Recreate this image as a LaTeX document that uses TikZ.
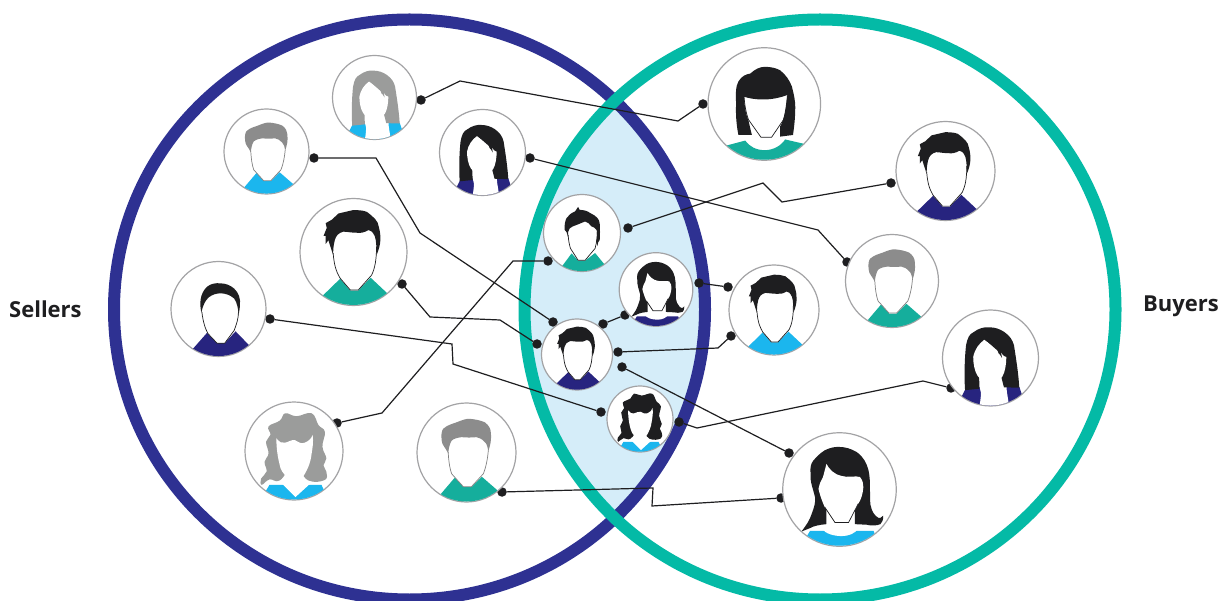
\documentclass[tikz,border=0pt]{standalone}
\usepackage{fontspec}
\setmainfont{Open Sans}
\definecolor{ringnavy}{HTML}{2E3192}
\definecolor{ringteal}{HTML}{04BAA6}
\definecolor{lens}{HTML}{D5EDF9}
\definecolor{ink}{HTML}{1E1E20}
\definecolor{sTeal}{HTML}{15AE9C}
\definecolor{sNavy}{HTML}{27247F}
\definecolor{sCyan}{HTML}{1BB6EE}
\definecolor{gW}{HTML}{9B9C9B}
\definecolor{gM}{HTML}{8C8C8C}
\definecolor{edge}{HTML}{A3A3A5}
\tikzset{
 avatar/.style={circle,draw=edge,line width=1.2pt,fill=white,inner sep=0pt,outer sep=0pt},
 dotn/.style={circle,fill=ink,inner sep=0pt,outer sep=0pt,minimum size=9.5pt},
 conn/.style={draw=ink,line width=1.2pt,line join=miter},
 jawline/.style={line width=.7pt},
 label/.style={font=\bfseries\fontsize{22}{26}\selectfont,text=ink,inner sep=0pt,anchor=base west},
}
\newcommand\facedraw[2][ink]{\fill[white] #2 -- cycle; \draw[jawline,#1] #2;}
% hair and face types, drawn in a frame with circle radius 100
\newcommand\typeMa{% short hair with tuft
 \fill[shirtc] (-60,84) -- (-25,50) -- (-6,72) -- (9,72) -- (32,48) -- (64,78) -- (80,120) -- (-80,120) -- cycle;
 \facedraw{(-38,2) .. controls (-36,30) and (-30,40) .. (-25,49) -- (-6,71) -- (9,71) -- (34,43) .. controls (40,30) and (43,15) .. (43,-10)}
 \fill[hairc] (-38,6) -- (-47,-22) -- (-52,-15) -- (-52,-30) -- (-56,-30) -- (-50,-45) -- (-52,-54) -- (-41,-60) -- (-28,-72) -- (0,-78.5) .. controls (10,-78) and (18,-78) .. (25,-75) .. controls (38,-65) and (46,-58) .. (47,-48) .. controls (52,-30) and (52,-15) .. (43,6) .. controls (43,-5) and (43,-20) .. (40,-29) .. controls (36,-38) and (32,-41) .. (28,-41) .. controls (20,-36) and (12,-35) .. (6,-36) .. controls (-5,-36) and (-12,-38) .. (-19,-38) .. controls (-28,-36) and (-33,-30) .. (-35,-22) .. controls (-38,-10) and (-38,-3) .. (-38,6) -- cycle;
}
\newcommand\typeMb{% gray quiff
 \fill[shirtc] (-52,84) -- (-23,50) -- (-6,70) -- (10,70) -- (31,49) -- (62,76) -- (80,120) -- (-80,120) -- cycle;
 \facedraw[gray]{(-37,-1) .. controls (-36,20) and (-33,35) .. (-30,43) -- (-6.5,69) -- (10,69) -- (34,43) .. controls (40,28) and (43,10) .. (44,-4)}
 \fill[hairc] (-37,2) .. controls (-42,-10) and (-50,-15) .. (-50,-24) .. controls (-52,-36) and (-50,-44) .. (-47,-48) .. controls (-38,-56) and (-28,-58) .. (-20,-61) .. controls (-10,-65) and (0,-69) .. (7,-68) .. controls (18,-67) and (28,-65) .. (37,-61) .. controls (45,-55) and (49,-48) .. (49,-41) .. controls (51,-25) and (48,-15) .. (44,-2) .. controls (43,-10) and (41,-18) .. (37,-21) .. controls (32,-27) and (26,-30) .. (20,-31) .. controls (10,-30) and (0,-30) .. (-10,-31) .. controls (-18,-30) and (-26,-28) .. (-30,-24) .. controls (-34,-18) and (-36,-8) .. (-37,2) -- cycle;
}
\newcommand\typeMc{% plain short hair
 \fill[shirtc] (-54,84) -- (-24,50) -- (-3,72) -- (13,72) -- (36,47) -- (66,78) -- (80,120) -- (-80,120) -- cycle;
 \facedraw{(-35,6) .. controls (-33,25) and (-28,42) .. (-22,52) -- (-3,72) -- (13,72) -- (33,45) .. controls (38,32) and (42,20) .. (42,6)}
 \fill[hairc] (-36,8) .. controls (-40,-10) and (-40,-32) .. (-24,-47) .. controls (-15,-54) and (-5,-55) .. (4,-54) .. controls (15,-54) and (25,-50) .. (33,-43) .. controls (43,-34) and (47,-20) .. (45,-8) .. controls (45,0) and (43,8) .. (42,13) .. controls (42,0) and (39,-14) .. (33,-22) .. controls (24,-30) and (14,-33) .. (4,-33) .. controls (-5,-33) and (-13,-30) .. (-20,-25) .. controls (-28,-18) and (-33,-8) .. (-36,8) -- cycle;
}
\newcommand\typeMd{% spiky top
 \fill[shirtc] (-53,88) -- (-27,53) -- (-10,72) -- (8,72) -- (34,52) -- (62,86) -- (80,120) -- (-80,120) -- cycle;
 \facedraw{(-36,5) .. controls (-35,20) and (-33,30) .. (-30,40) -- (-10,71) -- (8,71) -- (34,40) .. controls (38,25) and (40,10) .. (40,-8)}
 \fill[hairc] (-10,-68) -- (-6,-60) .. controls (2,-60) and (14,-58) .. (21,-52) .. controls (38,-44) and (45,-36) .. (46,-25) .. controls (47,-10) and (47,5) .. (46,18) -- (42,24) -- (40,34) -- (37,22) .. controls (40,10) and (39,0) .. (38,-8) .. controls (34,-14) and (30,-15) .. (25,-17) .. controls (20,-24) and (14,-28) .. (8,-30) .. controls (0,-26) and (-8,-24) .. (-14,-21) .. controls (-22,-19) and (-28,-15) .. (-32,-12) .. controls (-36,-8) and (-37,0) .. (-36,12) -- (-40,-2) -- (-45,-8) .. controls (-46,-20) and (-44,-32) .. (-40,-39) .. controls (-34,-47) and (-28,-52) .. (-18,-56) -- cycle;
}
\newcommand\typeWa{% long straight with fringe
 \fill[shirtc] (-50,60) -- (60,60) -- (80,120) -- (-80,120) -- cycle;
 \fill[white] (-24,55) -- (33,55) -- (34,70) .. controls (36,82) and (38,95) .. (40,110) -- (-25,110) .. controls (-22,95) and (-20,85) .. (-20,72) -- cycle;
 \fill[hairc] (-53,67) .. controls (-55,40) and (-54,0) .. (-51,-26) .. controls (-48,-42) and (-44,-50) .. (-35,-54) .. controls (-25,-62) and (-12,-65) .. (-3,-64) .. controls (10,-64) and (20,-60) .. (29,-54) .. controls (40,-46) and (46,-38) .. (49,-26) .. controls (53,0) and (58,30) .. (60,62) -- (28,61) -- (20,30) -- (-24,30) -- (-23,64) -- cycle;
 \fill[white] (-13,-38) .. controls (-24,-30) and (-33,-18) .. (-36,-2) .. controls (-36,12) and (-33,28) .. (-27,37) -- (-11,56) -- (11,56) -- (25,38) .. controls (30,30) and (33,12) .. (33,-2) -- (28,-4) -- (24,-8) -- (21,-14) -- (18,-6) -- (14,-18) -- (4,-26) -- cycle;
 \fill[hairc] (-11,-38) -- (8,-28) -- (20,-20) -- (30,-6) -- (22,-12) -- (24,0) -- (14,-16) -- cycle;
}
\newcommand\typeWb{% flared
 \fill[shirtc] (-52,73) -- (60,73) -- (80,120) -- (-80,120) -- cycle;
 \fill[white] (-32,55) -- (33,55) -- (33,68) .. controls (28,78) and (15,82) .. (4,82) .. controls (-10,82) and (-25,78) .. (-32,68) -- cycle;
 \fill[hairc] (-67,74) .. controls (-58,62) and (-53,55) .. (-49,43) .. controls (-45,32) and (-42,24) .. (-43,14) .. controls (-46,0) and (-52,-12) .. (-51,-28) .. controls (-52,-40) and (-50,-46) .. (-46,-51) .. controls (-40,-58) and (-34,-64) .. (-26,-69) .. controls (-16,-74) and (-8,-75) .. (-2,-75) .. controls (10,-75) and (20,-72) .. (30,-66) .. controls (42,-58) and (48,-46) .. (51,-34) .. controls (55,-15) and (53,0) .. (54,14) .. controls (54,24) and (54,30) .. (57,36) .. controls (60,44) and (68,52) .. (72,50) -- (77,46) .. controls (77,54) and (75,58) .. (72,61) .. controls (65,64) and (55,64) .. (48,62) -- (27,61) -- (27,30) -- (-23,30) -- (-23,61) .. controls (-35,62) and (-45,64) .. (-52,68) -- cycle;
 \fill[white] (-23,-45) .. controls (-18,-35) and (-8,-26) .. (3,-24) .. controls (15,-20) and (28,-25) .. (36,-22) .. controls (41,-16) and (42,-10) .. (42,-4) .. controls (41,8) and (38,18) .. (33,25) -- (16,58) -- (-8,58) -- (-26,31) .. controls (-31,20) and (-35,8) .. (-37,-1) .. controls (-35,-10) and (-33,-16) .. (-29,-22) -- cycle;
 \draw[jawline,ink] (-26,31) -- (-8,58) -- (16,58) -- (33,25);
}
\newcommand\typeWc{% curly
 \fill[shirtc] (-50,69) -- (56,69) -- (80,120) -- (-80,120) -- cycle;
 \fill[white] (-27,55) -- (36,55) -- (36,64) -- (3,94) -- (-25,66) -- cycle;
 \fill[hairc] plot[smooth cycle,tension=.7] coordinates {(-66,69) (-67,56) (-56,42) (-60,22) (-52,5) (-57,-19) (-48,-33) (-52,-50) (-29,-62) (-18,-77) (5,-71) (36,-77) (50,-53) (63,-39) (58,-9) (66,15) (60,29) (66,42) (63,59) (29,60) (0,30) (-29,60) (-50,58)};
 \fill[white] (-36,-26) .. controls (-30,-18) and (-24,-15) .. (-18,-17) .. controls (-12,-18) and (-4,-24) .. (2,-22) .. controls (8,-18) and (15,-14) .. (22,-17) .. controls (30,-20) and (36,-26) .. (38,-33) .. controls (40,-18) and (38,-8) .. (36,5) .. controls (34,25) and (26,42) .. (16,56) -- (-12,56) .. controls (-22,46) and (-28,38) .. (-29,29) .. controls (-34,10) and (-36,-8) .. (-36,-26) -- cycle;
}
\newcommand\typeWd{% bob with bangs
 \fill[shirtc] (-68,74) -- (-34,65) .. controls (-26,76) and (-14,82) .. (1,82) .. controls (16,82) and (30,74) .. (37,63) -- (76,72) -- (80,120) -- (-80,120) -- cycle;
 \facedraw{(41,-16) .. controls (40,5) and (38,18) .. (34,28) -- (13,59) -- (-6,59) -- (-28,28) .. controls (-33,15) and (-35,0) .. (-36,-13)}
 \fill[hairc] (-46,55) .. controls (-50,35) and (-51,15) .. (-50,-1) .. controls (-51,-15) and (-51,-32) .. (-46,-40) .. controls (-40,-50) and (-32,-53) .. (-25,-54) .. controls (-16,-62) and (-8,-66) .. (1,-66) .. controls (12,-66) and (20,-64) .. (28,-60) .. controls (38,-52) and (45,-42) .. (49,-31) .. controls (53,-15) and (55,-5) .. (55,5) .. controls (55,25) and (53,40) .. (51,55) -- (28,58) -- (28,40) .. controls (36,28) and (38,5) .. (41,-16) .. controls (25,-10) and (10,-8) .. (-2,-8) .. controls (-15,-8) and (-28,-10) .. (-36,-13) .. controls (-35,5) and (-33,18) .. (-28,30) .. controls (-26,38) and (-24,48) .. (-22,55) -- cycle;
}
% #1 name, #2 x, #3 y, #4 radius, #5 type, #6 shirt colour, #7 hair colour
\newcommand\person[7]{%
 \node[avatar,minimum size=#4*2pt] (#1) at (#2,#3) {};
 \begin{scope}[shift={(#2,#3)},scale=#4/100]
  \colorlet{shirtc}{#6}\colorlet{hairc}{#7}
  \clip (0,0) circle [radius=99];
  \csname type#5\endcsname
 \end{scope}
}
\newcommand\dotat[3]{\node[dotn] (#1) at (#2,#3) {};}
\begin{document}
\begin{tikzpicture}[x=1pt,y=-1pt]
\useasboundingbox (0,0) rectangle (1226,601);
\fill[white] (0,0) rectangle (1226,601);
% rings
\begin{scope}
 \clip (409.5,309.5) ellipse [x radius=295.5,y radius=290];
 \fill[lens] (820,309.5) ellipse [x radius=295.5,y radius=290];
\end{scope}
\draw[ringnavy,line width=12pt] (409.5,309.5) ellipse [x radius=295.5,y radius=290];
\draw[ringteal,line width=12pt] (820,309.5) ellipse [x radius=295.5,y radius=290];
% dots
\dotat{a1}{421}{100}\dotat{a2}{703}{104}
\dotat{b1}{314}{158}\dotat{b2}{553}{322}
\dotat{c1}{530}{158}\dotat{c2}{847}{262}
\dotat{d1}{628}{228}\dotat{d2}{891}{183}
\dotat{e1}{548}{261}\dotat{e2}{337}{423}
\dotat{f1}{402}{284}\dotat{f2}{537}{344}
\dotat{g1}{270}{319}\dotat{g2}{601}{412}
\dotat{h1}{603}{324}\dotat{h2}{625}{315}
\dotat{i1}{699}{283}\dotat{i2}{728}{287}
\dotat{j1}{618}{352}\dotat{j2}{731}{336}
\dotat{k1}{622}{367}\dotat{k2}{789}{453}
\dotat{l1}{679}{422}\dotat{l2}{951}{388}
\dotat{m1}{502}{492}\dotat{m2}{781}{498}
% connectors
\draw[conn] (a1) -- (460,81) -- (678,121) -- (a2);
\draw[conn] (b1) -- (376,158) -- (420,233) -- (b2);
\draw[conn] (c1) -- (818,230) -- (c2);
\draw[conn] (d1) -- (763,183) -- (782,202) -- (d2);
\draw[conn] (e1) -- (513,261) -- (382,413) -- (e2);
\draw[conn] (f1) -- (430,317) -- (500,320) -- (f2);
\draw[conn] (g1) -- (452,344) -- (453,364) -- (g2);
\draw[conn] (h1) -- (h2);
\draw[conn] (i1) -- (i2);
\draw[conn] (j1) -- (718,348) -- (j2);
\draw[conn] (k1) -- (k2);
\draw[conn] (l1) -- (697,428) -- (923,381) -- (l2);
\draw[conn] (m1) -- (653,488) -- (652,506) -- (m2);
% people
\person{p1}{374.5}{97.5}{42}{Wa}{sCyan}{gW}
\person{p2}{266.5}{151.5}{42.5}{Mb}{sCyan}{gM}
\person{p3}{482.5}{152.5}{43}{Wa}{sNavy}{ink}
\person{p4}{353.5}{252}{53.5}{Ma}{sTeal}{ink}
\person{p5}{218.5}{309}{47.5}{Mc}{sNavy}{ink}
\person{p6}{294}{451}{49}{Wc}{sCyan}{gW}
\person{p7}{466.5}{452.5}{49.5}{Mb}{sTeal}{gM}
\person{p8}{764.3}{104}{56.3}{Wd}{sTeal}{ink}
\person{p9}{945.5}{171}{49.5}{Ma}{sNavy}{ink}
\person{p10}{892}{281}{46.5}{Mb}{sTeal}{gM}
\person{p11}{990.5}{358}{48}{Wa}{sNavy}{ink}
\person{p12}{839.5}{489.5}{56.8}{Wb}{sCyan}{ink}
\person{p13}{774}{310}{45}{Ma}{sCyan}{ink}
\person{p14}{582}{233}{38.5}{Md}{sTeal}{ink}
\person{p15}{656}{289.5}{36.8}{Wb}{sNavy}{ink}
\person{p16}{577}{354.5}{35.5}{Ma}{sNavy}{ink}
\person{p17}{640}{419}{33}{Wc}{sCyan}{ink}
% labels
\node[label] (sellers) at (9,318) {Sellers};
\node[label] (buyers) at (1143,312) {Buyers};
\end{tikzpicture}
\end{document}
